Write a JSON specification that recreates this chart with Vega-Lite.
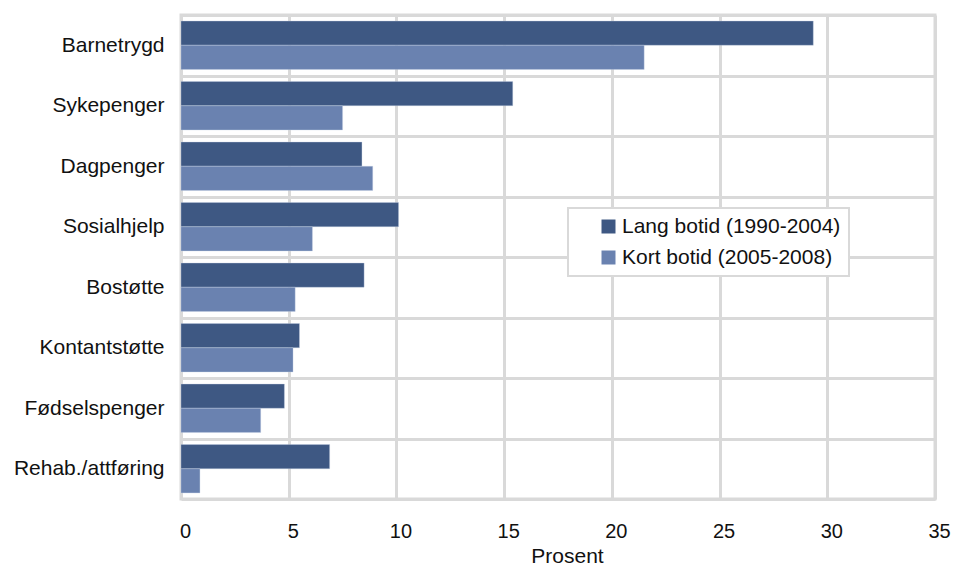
{
  "$schema": "https://vega.github.io/schema/vega-lite/v6.json",
  "width": 754,
  "height": 484,
  "autosize": {"type": "none"},
  "padding": {"left": 181, "top": 15, "right": 20, "bottom": 68},
  "background": "white",
  "data": {
    "values": [
      {"ytelse": "Barnetrygd", "gruppe": "Lang botid (1990-2004)", "prosent": 29.35},
      {"ytelse": "Barnetrygd", "gruppe": "Kort botid (2005-2008)", "prosent": 21.5},
      {"ytelse": "Sykepenger", "gruppe": "Lang botid (1990-2004)", "prosent": 15.4},
      {"ytelse": "Sykepenger", "gruppe": "Kort botid (2005-2008)", "prosent": 7.5},
      {"ytelse": "Dagpenger", "gruppe": "Lang botid (1990-2004)", "prosent": 8.4},
      {"ytelse": "Dagpenger", "gruppe": "Kort botid (2005-2008)", "prosent": 8.9},
      {"ytelse": "Sosialhjelp", "gruppe": "Lang botid (1990-2004)", "prosent": 10.1},
      {"ytelse": "Sosialhjelp", "gruppe": "Kort botid (2005-2008)", "prosent": 6.1},
      {"ytelse": "Bostøtte", "gruppe": "Lang botid (1990-2004)", "prosent": 8.5},
      {"ytelse": "Bostøtte", "gruppe": "Kort botid (2005-2008)", "prosent": 5.3},
      {"ytelse": "Kontantstøtte", "gruppe": "Lang botid (1990-2004)", "prosent": 5.5},
      {"ytelse": "Kontantstøtte", "gruppe": "Kort botid (2005-2008)", "prosent": 5.2},
      {"ytelse": "Fødselspenger", "gruppe": "Lang botid (1990-2004)", "prosent": 4.8},
      {"ytelse": "Fødselspenger", "gruppe": "Kort botid (2005-2008)", "prosent": 3.7},
      {"ytelse": "Rehab./attføring", "gruppe": "Lang botid (1990-2004)", "prosent": 6.9},
      {"ytelse": "Rehab./attføring", "gruppe": "Kort botid (2005-2008)", "prosent": 0.88}
    ]
  },
  "mark": {"type": "bar", "stroke": "#c8d2e6", "strokeWidth": 0.6, "strokeOpacity": 0.6},
  "encoding": {
    "y": {
      "field": "ytelse",
      "type": "nominal",
      "sort": null,
      "scale": {"paddingInner": 0, "paddingOuter": 0},
      "axis": {
        "title": null,
        "domain": false,
        "ticks": false,
        "tickBand": "extent",
        "grid": true,
        "gridColor": "#d9d9d9",
        "gridWidth": 3,
        "labelFont": "Liberation Sans",
        "labelFontSize": 21,
        "labelColor": "#111111",
        "labelPadding": 17
      }
    },
    "yOffset": {
      "field": "gruppe",
      "type": "nominal",
      "sort": ["Lang botid (1990-2004)", "Kort botid (2005-2008)"],
      "scale": {"paddingInner": 0, "paddingOuter": 0.25}
    },
    "x": {
      "field": "prosent",
      "type": "quantitative",
      "scale": {"domain": [0, 35], "nice": false},
      "axis": {
        "title": "Prosent",
        "values": [0, 5, 10, 15, 20, 25, 30, 35],
        "domain": false,
        "ticks": false,
        "grid": true,
        "gridColor": "#d9d9d9",
        "gridWidth": 3,
        "labelFont": "Liberation Sans",
        "labelFontSize": 20,
        "labelColor": "#111111",
        "labelPadding": 22,
        "labelOffset": 4,
        "labelFlush": false,
        "titleFont": "Liberation Sans",
        "titleFontSize": 21,
        "titleFontWeight": "normal",
        "titleColor": "#111111",
        "titlePadding": 4,
        "titleX": 386
      }
    },
    "color": {
      "field": "gruppe",
      "type": "nominal",
      "scale": {
        "domain": ["Lang botid (1990-2004)", "Kort botid (2005-2008)"],
        "range": ["#3e5883", "#6a82b0"]
      },
      "legend": {
        "title": null,
        "orient": "none",
        "legendX": 387,
        "legendY": 193,
        "fillColor": "white",
        "strokeColor": "#d9d9d9",
        "padding": 8,
        "symbolType": "square",
        "symbolSize": 196,
        "symbolStrokeWidth": 0,
        "symbolOpacity": 1,
        "symbolOffset": 22,
        "labelOffset": 3,
        "labelFont": "Liberation Sans",
        "labelFontSize": 21,
        "labelColor": "#111111",
        "labelLimit": 400,
        "rowPadding": 9,
        "labelExpr": "datum.label + '\u2007\u2007\u2007'"
      }
    }
  },
  "config": {
    "view": {"stroke": "#d9d9d9", "strokeWidth": 3},
    "legend": {"strokeWidth": 2}
  }
}
